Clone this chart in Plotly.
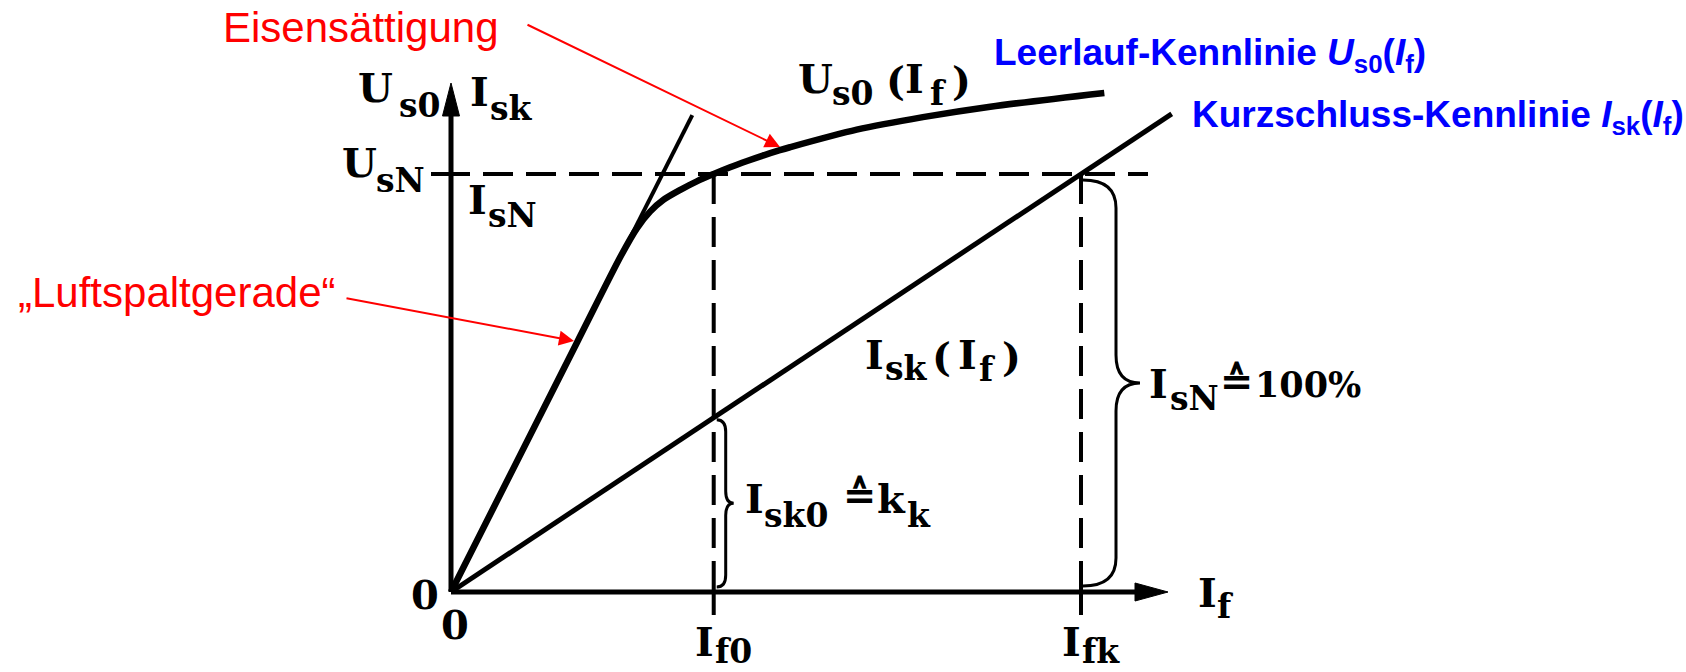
import plotly.graph_objects as go

# ---- characteristic values (field current normalised to I_fk = 1,
#      rated voltage / current normalised to U_sN = I_sN = 1) ----
I_F0 = 0.417
I_FK = 1.0
U_SN = 1.0

# air-gap line ("Luftspaltgerade")
air_gap_x = [0.0, 0.383]
air_gap_y = [0.0, 1.141]

# no-load characteristic U_s0(I_f)
us0_x = [0.0, 0.200, 0.270, 0.295, 0.316, 0.337, 0.364, 0.391, 0.417, 0.443,
         0.470, 0.495, 0.522, 0.538, 0.644, 0.749, 0.856, 1.037]
us0_y = [0.0, 0.597, 0.805, 0.870, 0.910, 0.938, 0.962, 0.983, 1.000, 1.016,
         1.031, 1.044, 1.057, 1.064, 1.106, 1.136, 1.161, 1.194]

# short-circuit characteristic I_sk(I_f)
isk_x = [0.0, 1.144]
isk_y = [0.0, 1.144]

# ---- drawing geometry ----
W, H = 1686, 672
X0, Y0 = 451, 592          # origin in pixels
SX, SY = 630, 418          # pixels per unit


def px_x(px):
    return (px - X0) / SX


def px_y(py):
    return (Y0 - py) / SY


SERIF = "DejaVu Serif, DejaVu Sans, serif"
SANS = "Liberation Sans, Arial, sans-serif"
BLACK = "#000000"
RED = "#ff0000"
BLUE = "#0000ff"

fig = go.Figure()


def line(x, y, width, dash="solid", color=BLACK):
    fig.add_trace(go.Scatter(x=x, y=y, mode="lines", hoverinfo="skip",
                             line=dict(color=color, width=width, dash=dash)))


def polygon(x, y):
    fig.add_trace(go.Scatter(x=x, y=y, mode="lines", fill="toself",
                             fillcolor=BLACK, hoverinfo="skip",
                             line=dict(color=BLACK, width=1)))


DASH = "30px,13px"

# rated-value guide lines
line([px_x(440), px_x(1148)], [U_SN, U_SN], 4, DASH)
line([px_x(431), 0.0], [U_SN, U_SN], 4)
line([I_F0, I_F0], [U_SN, 0.0], 4, DASH)
line([I_FK, I_FK], [U_SN, 0.0], 4, DASH)

# ticks below the abscissa
for xt in (I_F0, I_FK):
    line([xt, xt], [0.0, px_y(615)], 4)

# characteristics
line(air_gap_x, air_gap_y, 4)
fig.add_trace(go.Scatter(x=us0_x, y=us0_y, mode="lines", hoverinfo="skip",
                         line=dict(color=BLACK, width=6.5, shape="spline",
                                   smoothing=0.8)))
line(isk_x, isk_y, 5)

# axes with arrow heads
x_tip, y_tip = px_x(1168), px_y(83)
line([0.0, px_x(1140)], [0.0, 0.0], 5)
line([0.0, 0.0], [0.0, px_y(110)], 5)
polygon([px_x(1135), x_tip, px_x(1135), px_x(1135)],
        [9 / SY, 0.0, -9 / SY, 9 / SY])
polygon([-8.5 / SX, 0.0, 8.5 / SX, -8.5 / SX],
        [px_y(116), y_tip, px_y(116), px_y(116)])


# curly braces
def brace(x0, yt, yb, d, t, r):
    ym = (yt + yb) / 2
    xd = x0 + d
    return (f"M{x0},{yt} Q{xd},{yt} {xd},{yt - r} L{xd},{ym + r} "
            f"Q{xd},{ym} {xd + t},{ym} Q{xd},{ym} {xd},{ym - r} "
            f"L{xd},{yb + r} Q{xd},{yb} {x0},{yb}")


isk_at_f0 = I_F0 * isk_y[1] / isk_x[1]
fig.add_shape(type="path", xref="x", yref="y",
              path=brace(I_F0 + 3 / SX, isk_at_f0 - 2 / SY, 5 / SY,
                         9 / SX, 8 / SX, 12 / SY),
              line=dict(color=BLACK, width=3))
fig.add_shape(type="path", xref="x", yref="y",
              path=brace(I_FK + 2 / SX, U_SN - 6 / SY, 6 / SY,
                         33 / SX, 24 / SX, 28 / SY),
              line=dict(color=BLACK, width=3))


# text helpers: position given by left/right edge and baseline in pixels
def text(s, x_pix, base_pix, size, anchor="left", family=SERIF,
         color=BLACK, bold=True):
    fig.add_annotation(
        x=px_x(x_pix), y=px_y(base_pix - 0.346 * size), xref="x", yref="y",
        text=f"<b>{s}</b>" if bold else s, showarrow=False,
        xanchor=anchor, yanchor="middle", borderpad=0,
        font=dict(family=family, size=size, color=color))


MAIN, SUB = 40, 33

# ordinate labels
text("U", 394, 101, MAIN, "right")
text("s0", 442, 117, SUB, "right")
text("I", 469, 105, MAIN)
text("sk", 489, 120, SUB)
text("U", 378, 176, MAIN, "right")
text("sN", 426, 192, SUB, "right")
text("I", 467, 213, MAIN)
text("sN", 487, 227, SUB)

# origin
text("0", 425, 608, MAIN, "center")
text("0", 455, 638, MAIN, "center")

# abscissa labels
for xt, sub in ((I_F0, "f0"), (I_FK, "fk")):
    xp = X0 + xt * SX
    text("I", xp - 20, 655, MAIN)
    text(sub, xp, 663, SUB)
text("I", 1197, 606, MAIN)
text("f", 1216, 618, SUB)

# curve labels
text("U", 797, 92, MAIN)
text("s0", 831, 105, SUB)
text("(", 885, 94, MAIN)
text("I", 904, 92, MAIN)
text("f", 929, 105, SUB)
text(")", 951, 94, MAIN)

text("I", 864, 368, MAIN)
text("sk", 884, 380, SUB)
text("(", 931, 370, MAIN)
text("I", 957, 368, MAIN)
text("f", 978, 381, SUB)
text(")", 1001, 370, MAIN)

text("I", 1148, 397, MAIN)
text("sN", 1169, 410, SUB)
text("\u2259", 1219, 394, MAIN)
text("100%", 1362, 397, 35, "right")

text("I", 744, 512, MAIN)
text("sk0", 763, 527, SUB)
text("\u2259", 842, 508, MAIN)
text("k", 876, 512, MAIN)
text("k", 906, 527, SUB)

# red annotations with arrows
text("Eisensättigung", 500, 42, 42, "right", SANS, RED, bold=False)
text("\u201eLuftspaltgerade\u201c", 337, 307, 42, "right", SANS, RED,
     bold=False)
for tail, head in (((526, 24), (780, 147)), ((345, 298), (574, 341))):
    fig.add_annotation(
        x=px_x(head[0]), y=px_y(head[1]), ax=px_x(tail[0]), ay=px_y(tail[1]),
        xref="x", yref="y", axref="x", ayref="y", text="", showarrow=True,
        arrowhead=2, arrowsize=1.5, arrowwidth=2, arrowcolor=RED, standoff=0)

# blue captions of the two characteristics
text("Leerlauf-Kennlinie <i>U</i><sub>s0</sub>(<i>I</i><sub>f</sub>)",
     993, 68, 37, "left", SANS, BLUE)
text("Kurzschluss-Kennlinie <i>I</i><sub>sk</sub>(<i>I</i><sub>f</sub>)",
     1191, 130, 37, "left", SANS, BLUE)

fig.update_layout(
    width=W, height=H, margin=dict(l=0, r=0, t=0, b=0),
    paper_bgcolor="white", plot_bgcolor="white", showlegend=False,
    xaxis=dict(range=[px_x(0), px_x(W)], visible=False, fixedrange=True),
    yaxis=dict(range=[px_y(H), px_y(0)], visible=False, fixedrange=True),
)

fig.write_html("out.html")
